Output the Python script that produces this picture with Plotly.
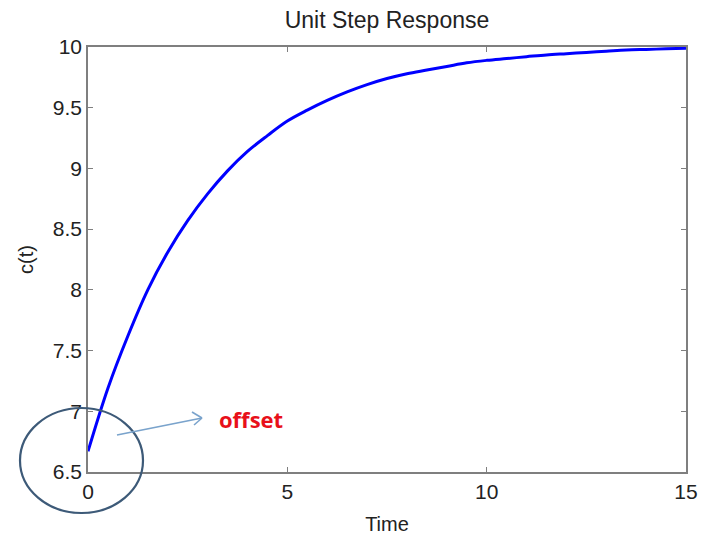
import plotly.graph_objects as go

# Values
time_s = [0, 0.5, 1, 1.5, 2, 2.5, 3, 3.5, 4, 4.5, 5, 5.5, 6, 6.5, 7, 7.5,
          8, 8.5, 9, 9.5, 10, 10.5, 11, 11.5, 12, 12.5, 13, 13.5, 14, 14.5, 15]
c_t = [6.67, 7.19, 7.62, 8.0, 8.31, 8.57, 8.79, 8.98, 9.14, 9.27, 9.39,
       9.48, 9.56, 9.63, 9.69, 9.74, 9.78, 9.81, 9.84, 9.87, 9.89, 9.905,
       9.92, 9.935, 9.945, 9.955, 9.965, 9.975, 9.98, 9.985, 9.99]
x_ticks = [0, 5, 10, 15]
y_ticks = [6.5, 7, 7.5, 8, 8.5, 9, 9.5, 10]
y_tick_text = ["6.5", "7", "7.5", "8", "8.5", "9", "9.5", "10"]

W, H = 701, 535
L, R, T, B = 88, 15, 47, 63
pw, ph = W - L - R, H - T - B


def px(x):
    return (x - L) / pw


def py(y):
    return (H - B - y) / ph


FONT = "Liberation Sans, Arial, sans-serif"
AX = "#7f7f7f"

fig = go.Figure()
fig.add_trace(go.Scatter(x=time_s, y=c_t, mode="lines",
                         line=dict(color="#0000ff", width=3, shape="spline"),
                         showlegend=False))

axis_common = dict(showline=True, linecolor=AX, linewidth=1.5, mirror="ticks",
                   ticks="inside", ticklen=5, tickcolor=AX, tickwidth=1.2,
                   showgrid=False, zeroline=False, automargin=False,
                   tickfont=dict(family=FONT, size=21, color="#222222"))

fig.update_xaxes(range=[0, 15], tickvals=x_ticks,
                 title=dict(text="Time", font=dict(family=FONT, size=20, color="#222222"), standoff=16),
                 **axis_common)
fig.update_yaxes(range=[6.5, 10], tickvals=y_ticks, ticktext=y_tick_text,
                 title=dict(text="c(t)", font=dict(family=FONT, size=20, color="#222222"), standoff=14),
                 **axis_common)

# ellipse marking the offset
fig.add_shape(type="circle", xref="paper", yref="paper",
              x0=px(20), x1=px(143), y0=py(513), y1=py(408),
              line=dict(color="#3d5a78", width=2.2))
# arrow
arrow_col = "#7aa3cc"
fig.add_shape(type="line", xref="paper", yref="paper",
              x0=px(117), y0=py(435), x1=px(202), y1=py(418),
              line=dict(color=arrow_col, width=1.6))
fig.add_shape(type="line", xref="paper", yref="paper",
              x0=px(192), y0=py(412), x1=px(202), y1=py(418),
              line=dict(color=arrow_col, width=1.6))
fig.add_shape(type="line", xref="paper", yref="paper",
              x0=px(194), y0=py(425), x1=px(202), y1=py(418),
              line=dict(color=arrow_col, width=1.6))
fig.add_annotation(xref="paper", yref="paper", x=px(217), y=py(419),
                   xanchor="left", yanchor="middle", showarrow=False,
                   text="<b>offset</b>",
                   font=dict(family="Open Sans, sans-serif", size=22, color="#e8101a"))

fig.update_layout(
    width=W, height=H,
    margin=dict(l=L, r=R, t=T, b=B),
    paper_bgcolor="white", plot_bgcolor="white",
    title=dict(text="Unit Step Response", x=387 / W, xanchor="center",
               y=1 - 20 / H, yanchor="middle", yref="container",
               font=dict(family=FONT, size=23, color="#222222")),
)

fig.write_html("out.html")
